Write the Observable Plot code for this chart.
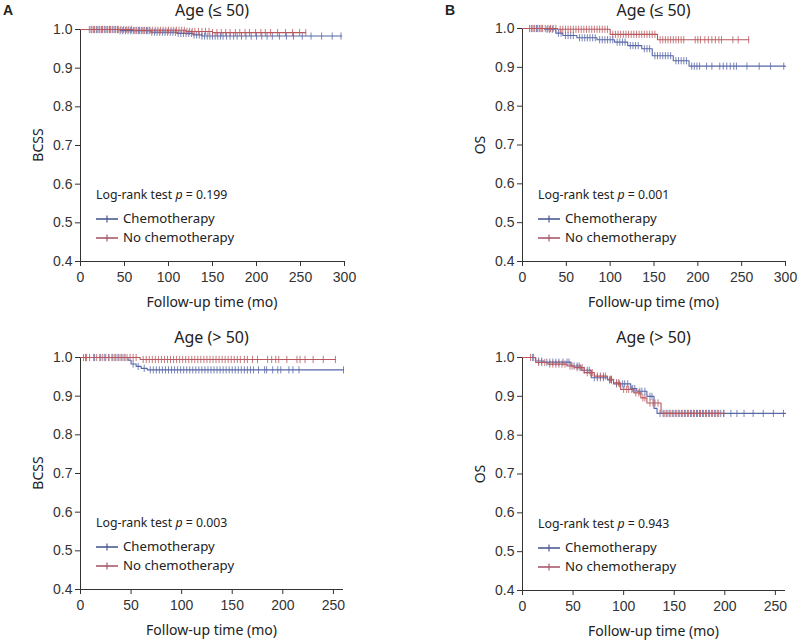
<!DOCTYPE html>
<html><head><meta charset="utf-8">
<script src="https://cdn.jsdelivr.net/npm/d3@7"></script>
<script src="https://cdn.jsdelivr.net/npm/@observablehq/plot@0.6"></script>
<style>
body{margin:0;background:#fff;}
#wrap{position:relative;width:799px;height:640px;overflow:hidden;font-family:"Noto Sans",sans-serif;color:#222;}
.panel{position:absolute;}
.lbl{position:absolute;white-space:nowrap;line-height:1;}
</style></head><body><div id="wrap"></div>
<script>
// ---------- data ----------
const panelLetters = ["A", "B", "", ""];
const panelTitles = ["Age (≤ 50)", "Age (≤ 50)", "Age (> 50)", "Age (> 50)"];
const yLabels = ["BCSS", "OS", "BCSS", "OS"];
const pValues = ["0.199", "0.001", "0.003", "0.943"];
const seriesNames = ["Chemotherapy", "No chemotherapy"];
const seriesColors = ["#5767a8", "#b9585e"];
const legendColors = ["#4d5b93", "#a9596b"];
const xLabel = "Follow-up time (mo)";
const xMax = [300, 300, 260, 260];
const xTicks300 = [0, 50, 100, 150, 200, 250, 300];
const xTicks260 = [0, 50, 100, 150, 200, 250];
const yTicks = [0.4, 0.5, 0.6, 0.7, 0.8, 0.9, 1.0];

// Panel A, age <= 50 (BCSS)
const aYoungChemoSteps = [[0, 1], [45, 0.997], [80, 0.993], [110, 0.99], [128, 0.986], [138, 0.983]];
const aYoungChemoEnd = 297;
const aYoungChemoCensor = [12,15,18,21,24,27,30,33,36,39,42,45,48,51,54,57,60,63,66,69,72,75,78,81,84,87,90,93,96,99,102,105,108,111,114,117,120,123,126,129,132,135,138,141,144,147,150,153,156,159,162,166,170,174,178,183,188,194,200,206,212,218,226,234,242,252,262,274,286,296];
const aYoungNoChemoSteps = [[0, 1], [60, 0.998], [120, 0.995], [150, 0.992]];
const aYoungNoChemoEnd = 256;
const aYoungNoChemoCensor = [10,13,16,19,22,25,28,31,34,37,40,43,46,49,52,55,58,61,64,67,70,73,76,79,82,85,88,91,94,97,100,103,106,109,112,115,118,121,124,127,130,134,138,142,146,150,155,160,165,170,176,181,187,192,199,205,210,216,224,233,241,249,256];

// Panel B, age <= 50 (OS)
const bYoungChemoSteps = [[0, 1], [25, 0.998], [38, 0.988], [46, 0.982], [62, 0.976], [85, 0.971], [105, 0.965], [120, 0.956], [136, 0.948], [148, 0.93], [172, 0.917], [190, 0.903]];
const bYoungChemoEnd = 300;
const bYoungChemoCensor = [10,13,16,19,22,28,31,34,41,44,49,52,55,58,65,68,71,74,77,80,83,88,91,94,97,100,103,108,111,114,117,123,126,129,132,139,142,145,151,154,157,160,163,166,169,175,178,181,184,187,193,196,199,202,210,216,225,229,233,237,241,244,256,270,283,298];
const bYoungNoChemoSteps = [[0, 1], [40, 0.998], [100, 0.985], [154, 0.971]];
const bYoungNoChemoEnd = 258;
const bYoungNoChemoCensor = [8,11,14,17,20,23,26,29,32,35,38,43,46,49,52,55,58,61,64,67,70,73,76,79,82,85,88,91,94,97,103,106,109,112,115,118,121,124,127,130,133,136,139,142,145,148,151,157,160,163,166,169,172,175,178,181,184,197,200,203,208,212,216,220,224,227,240,246,258];

// Panel A, age > 50 (BCSS)
const aOldChemoSteps = [[0, 1], [47, 0.993], [50, 0.983], [55, 0.977], [60, 0.972], [66, 0.968]];
const aOldChemoEnd = 260;
const aOldChemoCensor = [5,9,14,20,24,28,32,35,38,41,44,52,57,63,69,72,75,78,81,84,87,90,93,96,99,102,105,108,111,114,117,120,123,126,129,132,135,138,141,144,147,150,153,156,159,162,165,168,171,176,182,184,190,195,198,206,210,216,260];
const aOldNoChemoSteps = [[0, 1], [59, 0.995]];
const aOldNoChemoEnd = 252;
const aOldNoChemoCensor = [3,6,13,16,19,22,25,28,31,34,37,40,43,46,49,52,55,62,65,68,71,74,77,80,83,86,89,92,95,98,101,104,107,110,113,116,119,122,125,128,131,134,137,140,143,146,149,152,155,158,162,165,170,175,185,189,193,196,204,214,217,222,230,240,252];

// Panel B, age > 50 (OS)
const bOldChemoSteps = [[0, 1], [13, 0.991], [21, 0.988], [48, 0.978], [58, 0.967], [68, 0.948], [84, 0.942], [90, 0.932], [107, 0.92], [113, 0.913], [123, 0.9], [130, 0.869], [133, 0.856]];
const bOldChemoEnd = 260;
const bOldChemoCensor = [10,16,19,24,27,30,33,36,40,44,46,51,54,56,61,64,66,71,74,77,80,86,88,93,96,99,101,104,109,111,116,118,121,126,128,136,139,142,145,148,151,154,157,160,163,166,169,172,175,178,181,184,187,190,193,196,199,206,212,219,228,238,248,258];
const bOldNoChemoSteps = [[0, 1], [13, 0.987], [25, 0.983], [44, 0.978], [51, 0.974], [61, 0.961], [71, 0.952], [84, 0.944], [90, 0.935], [97, 0.918], [110, 0.909], [117, 0.896], [123, 0.883], [137, 0.856]];
const bOldNoChemoEnd = 199;
const bOldNoChemoCensor = [8,11,16,19,22,27,30,33,36,39,42,47,49,54,57,59,64,67,69,74,77,80,82,87,88,93,95,100,103,105,108,112,115,119,121,126,129,131,134,140,143,146,149,152,155,158,161,164,167,170,173,176,179,182,185,188,191,194,199];

// ---------- assembly ----------
const panelSeries = [
  [[aYoungChemoSteps, aYoungChemoEnd, aYoungChemoCensor], [aYoungNoChemoSteps, aYoungNoChemoEnd, aYoungNoChemoCensor]],
  [[bYoungChemoSteps, bYoungChemoEnd, bYoungChemoCensor], [bYoungNoChemoSteps, bYoungNoChemoEnd, bYoungNoChemoCensor]],
  [[aOldChemoSteps, aOldChemoEnd, aOldChemoCensor], [aOldNoChemoSteps, aOldNoChemoEnd, aOldNoChemoCensor]],
  [[bOldChemoSteps, bOldChemoEnd, bOldChemoCensor], [bOldNoChemoSteps, bOldNoChemoEnd, bOldNoChemoCensor]]
];
const layout = [
  {left: 0, top: 0, w: 400, h: 320, mL: 80, mR: 56, mT: 29, mB: 59},
  {left: 400, top: 0, w: 399, h: 320, mL: 122, mR: 14, mT: 28, mB: 59},
  {left: 0, top: 320, w: 400, h: 320, mL: 80, mR: 57, mT: 37, mB: 51},
  {left: 400, top: 320, w: 399, h: 320, mL: 122, mR: 14, mT: 37, mB: 50}
];

function survAt(steps, t) {
  let s = 1;
  for (const [tt, ss] of steps) if (tt <= t) s = ss;
  return s;
}
const vtick = {draw(context, size) { const r = Math.sqrt(size / Math.PI); context.moveTo(0, -r); context.lineTo(0, r); }};

const wrap = document.getElementById("wrap");
function addLabel(html, x, y, css) {
  const d = document.createElement("div");
  d.className = "lbl";
  d.innerHTML = html;
  d.style.cssText += css;
  d.style.left = x + "px";
  d.style.top = y + "px";
  wrap.appendChild(d);
  return d;
}

layout.forEach((L, i) => {
  const marks = [];
  panelSeries[i].forEach(([steps, end, censor], k) => {
    const linePts = steps.map(([t, s]) => ({t, s})).concat([{t: end, s: steps[steps.length - 1][1]}]);
    const cens = censor.map(t => ({t, s: survAt(steps, t)}));
    marks.push(Plot.line(linePts, {x: "t", y: "s", curve: "step-after", stroke: seriesColors[k], strokeWidth: 1.1}));
    marks.push(Plot.dot(cens, {x: "t", y: "s", symbol: vtick, r: 3.6, stroke: seriesColors[k], strokeWidth: 1, strokeOpacity: 0.8, fill: "none"}));
  });
  const svg = Plot.plot({
    width: L.w, height: L.h,
    marginLeft: L.mL, marginRight: L.mR, marginTop: L.mT, marginBottom: L.mB,
    style: {fontFamily: "'Liberation Sans', Arial, sans-serif", fontSize: "14px", color: "#333", background: "transparent"},
    x: {domain: [0, xMax[i]]},
    y: {domain: [0.4, 1.0]},
    marks: [
      Plot.axisX({ticks: xMax[i] === 300 ? xTicks300 : xTicks260, tickSize: 5, tickPadding: 6, label: null, fontSize: 14}),
      Plot.axisY({ticks: yTicks, tickFormat: ".1f", tickSize: 5, tickPadding: 3, label: null, fontSize: 14}),
      Plot.ruleX([0], {stroke: "#333", strokeWidth: 1}),
      Plot.ruleY([0.4], {stroke: "#333", strokeWidth: 1}),
      ...marks
    ]
  });
  svg.classList.add("panel");
  svg.style.position = "absolute";
  svg.style.left = L.left + "px";
  svg.style.top = L.top + "px";
  wrap.appendChild(svg);

  const cx = L.left + (L.mL + L.w - L.mR) / 2;
  const plotTop = L.top + L.mT;
  const plotBottom = L.top + L.h - L.mB;
  // title
  addLabel(panelTitles[i], cx, L.top + (i < 2 ? 2 : 9), "font-size:16px;transform:translateX(-50%);");
  if (panelLetters[i]) addLabel(panelLetters[i], L.left + (i === 0 ? 3 : 45), 3, "font-size:14px;font-weight:bold;font-family:'Liberation Sans',Arial,sans-serif;");
  // x label
  addLabel(xLabel, cx, plotBottom + 34, "font-size:14px;transform:translateX(-50%);");
  // y label
  addLabel(yLabels[i], L.left + L.mL - 42, (plotTop + plotBottom) / 2, "font-size:14px;transform:translate(-50%,-50%) rotate(-90deg);");
  // legend
  const lx = L.left + L.mL + 16;
  addLabel(`Log-rank test <i>p</i> = ${pValues[i]}`, lx, plotBottom - 72, "font-size:12.3px;");
  seriesNames.forEach((nm, k) => {
    const yy = plotBottom - (k === 0 ? 41 : 22);
    addLabel(`<svg width="22" height="8" style="vertical-align:middle;margin-right:5px"><line x1="0" x2="22" y1="4" y2="4" stroke="${legendColors[k]}" stroke-width="1.6"/><line x1="11" x2="11" y1="0.5" y2="7.5" stroke="${legendColors[k]}" stroke-width="1.2"/></svg>${nm}`, lx, yy - 8, "font-size:13.2px;display:flex;align-items:center;");
  });
});
</script></body></html>
